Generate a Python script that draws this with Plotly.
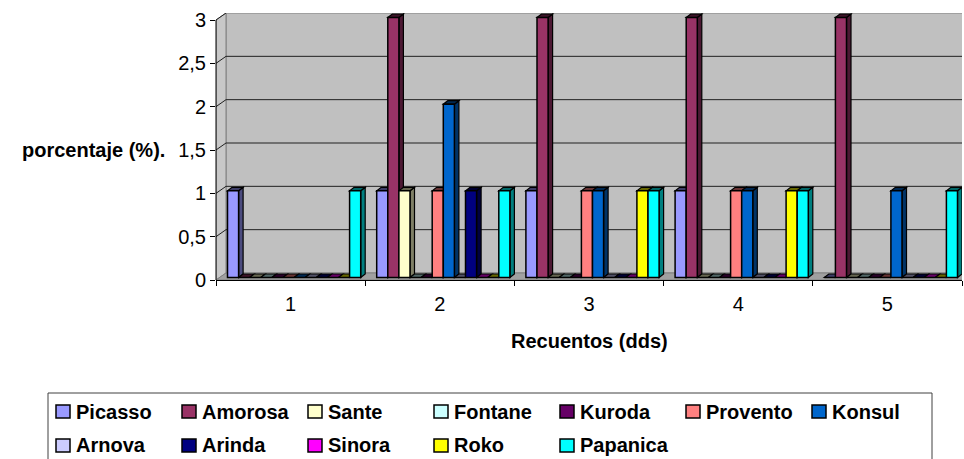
import plotly.graph_objects as go

# ---- data -------------------------------------------------------------
categories = [1, 2, 3, 4, 5]
category_labels = ["1", "2", "3", "4", "5"]

series_names = ["Picasso", "Amorosa", "Sante", "Fontane", "Kuroda", "Provento",
                "Konsul", "Arnova", "Arinda", "Sinora", "Roko", "Papanica"]
series_colors = ["#9999FF", "#993366", "#FFFFCC", "#CCFFFF", "#660066", "#FF8080",
                 "#0066CC", "#CCCCFF", "#000080", "#FF00FF", "#FFFF00", "#00FFFF"]

picasso = [1, 1, 1, 1, 0]
amorosa = [0, 3, 3, 3, 3]
sante = [0, 1, 0, 0, 0]
fontane = [0, 0, 0, 0, 0]
kuroda = [0, 0, 0, 0, 0]
provento = [0, 1, 1, 1, 0]
konsul = [0, 2, 1, 1, 1]
arnova = [0, 0, 0, 0, 0]
arinda = [0, 1, 0, 0, 0]
sinora = [0, 0, 0, 0, 0]
roko = [0, 0, 1, 1, 0]
papanica = [1, 1, 1, 1, 1]

series_values = [picasso, amorosa, sante, fontane, kuroda, provento,
                 konsul, arnova, arinda, sinora, roko, papanica]

y_tick_values = [0, 0.5, 1, 1.5, 2, 2.5, 3]
y_tick_labels = ["0", "0,5", "1", "1,5", "2", "2,5", "3"]

x_title = "Recuentos (dds)"
y_title = "porcentaje (%)."

# ---- page / plot geometry (pixels) ------------------------------------
WIDTH, HEIGHT = 964, 459
PLOT_L, PLOT_R = 216, 962
PLOT_T, PLOT_B = 13, 280
PLOT_W = PLOT_R - PLOT_L
PLOT_H = PLOT_B - PLOT_T

X_MIN, X_MAX = 0.5, 5.5
PX_PER_X = PLOT_W / (X_MAX - X_MIN)
PX_PER_Y = 260 / 3.0
Y_MAX = PLOT_H / PX_PER_Y


def px_x(p):
    return (p - PLOT_L) / PLOT_W


def px_y(p):
    return (PLOT_B - p) / PLOT_H


# 3-D look: wall depth and bar depth expressed in axis units
WALL_DX, WALL_DY = 10 / PX_PER_X, 7 / PX_PER_Y
BAR_SHIFT_X, BAR_BASE = 3.5 / PX_PER_X, 2.5 / PX_PER_Y
BAR_DX, BAR_DY = 4.5 / PX_PER_X, 3.5 / PX_PER_Y
BAR_W = 11.1 / PX_PER_X
GROUP_W = BAR_W * len(series_names)

FONT = "Liberation Sans, Arial, sans-serif"
FONT_SIZE = 20
WALL = "#C0C0C0"
FLOOR = "#A0A0A0"
EDGE = "#808080"


def shade(hex_color, k):
    h = hex_color.lstrip("#")
    r, g, b = (int(h[i:i + 2], 16) for i in (0, 2, 4))
    return "#%02X%02X%02X" % (int(r * k), int(g * k), int(b * k))


def poly(points):
    return "M " + " L ".join("%.5f,%.5f" % p for p in points) + " Z"


shapes = []

# back wall, side wall and floor
x0w, x1w = X_MIN + WALL_DX, X_MAX + WALL_DX
shapes.append(dict(type="rect", xref="x", yref="y", x0=x0w, x1=x1w,
                   y0=WALL_DY, y1=3 + WALL_DY, fillcolor=WALL,
                   line=dict(color=EDGE, width=1), layer="below"))
shapes.append(dict(type="path", xref="x", yref="y",
                   path=poly([(X_MIN, 0), (x0w, WALL_DY), (x0w, 3 + WALL_DY), (X_MIN, 3)]),
                   fillcolor="#C8C8C8", line=dict(color=EDGE, width=1), layer="below"))
shapes.append(dict(type="path", xref="x", yref="y",
                   path=poly([(X_MIN, 0), (X_MAX + 1, 0), (X_MAX + 1, WALL_DY), (x0w, WALL_DY)]),
                   fillcolor=FLOOR, line=dict(color=EDGE, width=1), layer="below"))

# gridlines on the back wall and the side wall
for v in y_tick_values[1:-1]:
    shapes.append(dict(type="line", xref="x", yref="y", x0=x0w, x1=x1w,
                       y0=v + WALL_DY, y1=v + WALL_DY,
                       line=dict(color="#202020", width=1), layer="below"))
for v in y_tick_values[1:]:
    shapes.append(dict(type="line", xref="x", yref="y", x0=X_MIN, x1=x0w,
                       y0=v, y1=v + WALL_DY,
                       line=dict(color="#202020", width=1), layer="below"))

# side and top faces of every column
traces = []
for i, (name, color, vals) in enumerate(zip(series_names, series_colors, series_values)):
    offset = -GROUP_W / 2 + i * BAR_W + BAR_SHIFT_X
    for c, v in zip(categories, vals):
        xa = c + offset
        xb = xa + BAR_W
        top = BAR_BASE + v
        if v > 0:
            shapes.append(dict(type="path", xref="x", yref="y",
                               path=poly([(xb, BAR_BASE), (xb + BAR_DX, BAR_BASE + BAR_DY),
                                          (xb + BAR_DX, top + BAR_DY), (xb, top)]),
                               fillcolor=shade(color, 0.5),
                               line=dict(color="black", width=1.2), layer="below"))
        shapes.append(dict(type="path", xref="x", yref="y",
                           path=poly([(xa, top), (xb, top), (xb + BAR_DX, top + BAR_DY),
                                      (xa + BAR_DX, top + BAR_DY)]),
                           fillcolor=shade(color, 0.4),
                           line=dict(color="black", width=1.2), layer="below"))
    traces.append(go.Bar(
        x=categories, y=vals, base=[BAR_BASE] * len(vals), name=name,
        width=BAR_W, offset=offset,
        marker=dict(color=color, line=dict(color="black", width=1.5)),
        showlegend=False, cliponaxis=False, hoverinfo="skip"))

# front value axis line (value 0 to 3)
shapes.append(dict(type="line", xref="paper", yref="y", x0=0, x1=0, y0=0, y1=3,
                   line=dict(color="black", width=1), layer="above"))

# legend box with swatches
LEG_L, LEG_T, LEG_R, LEG_B = 48, 393, 932, 463
shapes.append(dict(type="rect", xref="paper", yref="paper",
                   x0=px_x(LEG_L), x1=px_x(LEG_R), y0=px_y(LEG_B), y1=px_y(LEG_T),
                   line=dict(color="#404040", width=1), fillcolor="white", layer="above"))
annotations = []
COL0, COL_STEP = 56, 126
ROW_Y = [411.5, 445.5]
for k, (name, color) in enumerate(zip(series_names, series_colors)):
    row, col = divmod(k, 7)
    sx = COL0 + col * COL_STEP
    sy = ROW_Y[row]
    shapes.append(dict(type="rect", xref="paper", yref="paper",
                       x0=px_x(sx), x1=px_x(sx + 14), y0=px_y(sy + 6.5), y1=px_y(sy - 6.5),
                       fillcolor=color, line=dict(color="black", width=1.5), layer="above"))
    annotations.append(dict(xref="paper", yref="paper", x=px_x(sx + 18), y=px_y(sy),
                            xanchor="left", yanchor="middle", showarrow=False,
                            text="<b>%s</b>" % name,
                            font=dict(family=FONT, size=FONT_SIZE, color="black")))

# axis titles
annotations.append(dict(xref="paper", yref="y", x=px_x(167), y=1.5,
                        xanchor="right", yanchor="middle", showarrow=False,
                        text="<b>%s</b>" % y_title,
                        font=dict(family=FONT, size=FONT_SIZE, color="black")))
annotations.append(dict(xref="paper", yref="paper", x=0.5, y=px_y(341),
                        xanchor="center", yanchor="middle", showarrow=False,
                        text="<b>%s</b>" % x_title,
                        font=dict(family=FONT, size=FONT_SIZE, color="black")))

fig = go.Figure(traces)
fig.update_layout(
    width=WIDTH, height=HEIGHT,
    margin=dict(l=PLOT_L, r=WIDTH - PLOT_R, t=PLOT_T, b=HEIGHT - PLOT_B, pad=0),
    paper_bgcolor="white", plot_bgcolor="white",
    barmode="overlay",
    font=dict(family=FONT, size=FONT_SIZE, color="black"),
    shapes=shapes, annotations=annotations,
    xaxis=dict(range=[X_MIN, X_MAX], tickmode="array", tickvals=categories,
               ticktext=category_labels, ticks="outside", ticklen=6,
               tickcolor="rgba(0,0,0,0)", showline=True, linecolor="black",
               linewidth=1, showgrid=False, zeroline=False,
               tickfont=dict(family=FONT, size=FONT_SIZE),
               minor=dict(tickmode="array",
                          tickvals=[c - 0.5 for c in categories] + [categories[-1] + 0.5],
                          ticks="outside", ticklen=5, tickcolor="black", showgrid=False)),
    yaxis=dict(range=[0, Y_MAX], tickmode="array", tickvals=y_tick_values,
               ticktext=y_tick_labels, ticks="outside", ticklen=5, tickcolor="black",
               showline=False, showgrid=False, zeroline=False,
               tickfont=dict(family=FONT, size=FONT_SIZE)),
)

fig.write_html("out.html")
